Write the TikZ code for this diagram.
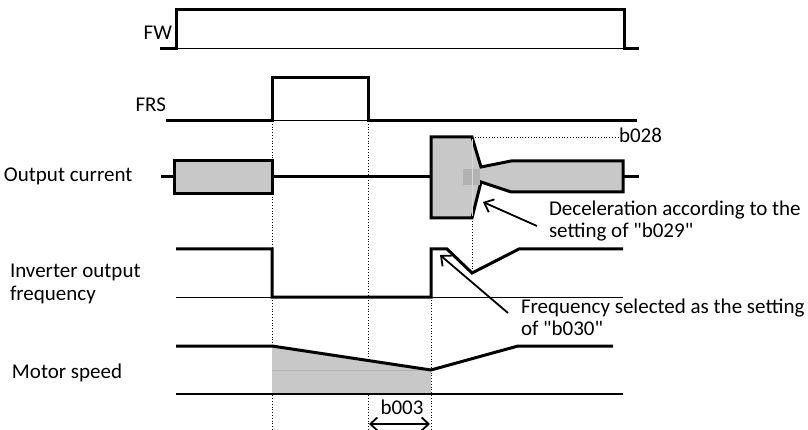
\documentclass[tikz,border=0pt]{standalone}
\usepackage{fontspec}
\setmainfont{Carlito}[Ligatures=TeXOff]
\usetikzlibrary{arrows.meta}
\definecolor{fillgray}{RGB}{200,200,200}
\definecolor{darkgray2}{RGB}{178,178,178}
\tikzset{
  sig/.style={line width=3pt, line join=miter},
  thinbase/.style={line width=1pt},
  guide/.style={dotted, line width=0.8pt},
  lab/.style={font=\fontsize{21}{22}\selectfont, inner sep=0pt, outer sep=0pt},
  mlab/.style={lab, align=left},
  callout/.style={line width=1.8pt, -{Straight Barb[length=8pt, width=14pt, line width=1.8pt]}},
  dimarrow/.style={line width=1.8pt, {Straight Barb[length=7pt, width=13pt, line width=1.8pt]}-{Straight Barb[length=7pt, width=13pt, line width=1.8pt]}}
}
\begin{document}
\begin{tikzpicture}[x=1pt,y=-1pt]
\useasboundingbox (0,0) rectangle (808,430);
% labels (base anchor of a multi-line node = baseline of its last line)
\node[lab, anchor=base east] (fw) at (172,40) {FW};
\node[lab, anchor=base east] (frs) at (166,112) {FRS};
\node[lab, anchor=base west] (oc) at (4,182) {Output current};
\node[mlab, anchor=base west, font=\fontsize{21}{23}\selectfont] (iof) at (10,300) {Inverter output\\frequency};
\node[lab, anchor=base west] (ms) at (12,378) {Motor speed};
\node[lab, anchor=base west] (b028) at (619,143) {b028};
\node[mlab, anchor=base west] (dec) at (549,238) {Deceleration according to the\\setting of "b029"};
\node[mlab, anchor=base west] (fsel) at (521,335) {Frequency selected as the setting\\of "b030"};
\node[lab, anchor=base] (b003) at (402,414) {b003};

% FW
\draw[thinbase] (176,49) -- (624,49);
\draw[sig] (160,49) -- (176,49) -- (176,10) -- (624,10) -- (624,49) -- (639,49);
% FRS
\draw[thinbase] (272,121) -- (368,121);
\draw[sig] (166,121) -- (272,121) -- (272,78) -- (368,78) -- (368,121) -- (637,121);

% guides
\draw[guide] (272,121) -- (272,430);
\draw[guide] (368,121) -- (368,430);
\draw[guide] (431,297) -- (431,430);
\draw[guide] (472,218) -- (472,273);
\draw[guide] (472,137) -- (b028.west |- 472,137);

% Output current
\draw[sig] (161,177) -- (174,177);
\draw[sig, fill=fillgray] (174,161) rectangle (272,194);
\draw[sig] (272,177) -- (431,177);
\draw[sig, fill=fillgray] (431,137) -- (472,137) -- (481,167) -- (511,161) -- (623,161)
  -- (623,192) -- (511,192) -- (481,182) -- (472,218) -- (431,218) -- cycle;
\fill[darkgray2] (463,169) rectangle (480,185);
\draw[white!85!black, line width=0.5pt] (472,139) -- (472,216);
\draw[sig] (623,177) -- (639,177);

% Inverter output frequency
\draw[thinbase] (176,297) -- (623,297);
\draw[sig] (176,249) -- (272,249) -- (272,297) -- (431,297) -- (431,249) -- (447,249)
  -- (472,273) -- (519,249) -- (623,249);

% Motor speed
\fill[fillgray] (272,346) -- (431,370) -- (431,394) -- (272,394) -- cycle;
\draw[darkgray2, line width=0.6pt] (272,370) -- (431,370);
\draw[line width=1.6pt] (176,394) -- (623,394);
\draw[sig] (176,346) -- (272,346) -- (431,370) -- (518,346) -- (613,346);

% callouts
\coordinate (decS) at (537,226);
\coordinate (decE) at (483,202);
\coordinate (fsS) at (508,313);
\coordinate (fsE) at (440,255);
\draw[callout] (decS) -- (decE);
\draw[callout] (fsS) -- (fsE);

% b003 dimension
\coordinate (dL) at (369,424);
\coordinate (dR) at (430,424);
\draw[dimarrow] (dL) -- (dR);
\end{tikzpicture}
\end{document}
